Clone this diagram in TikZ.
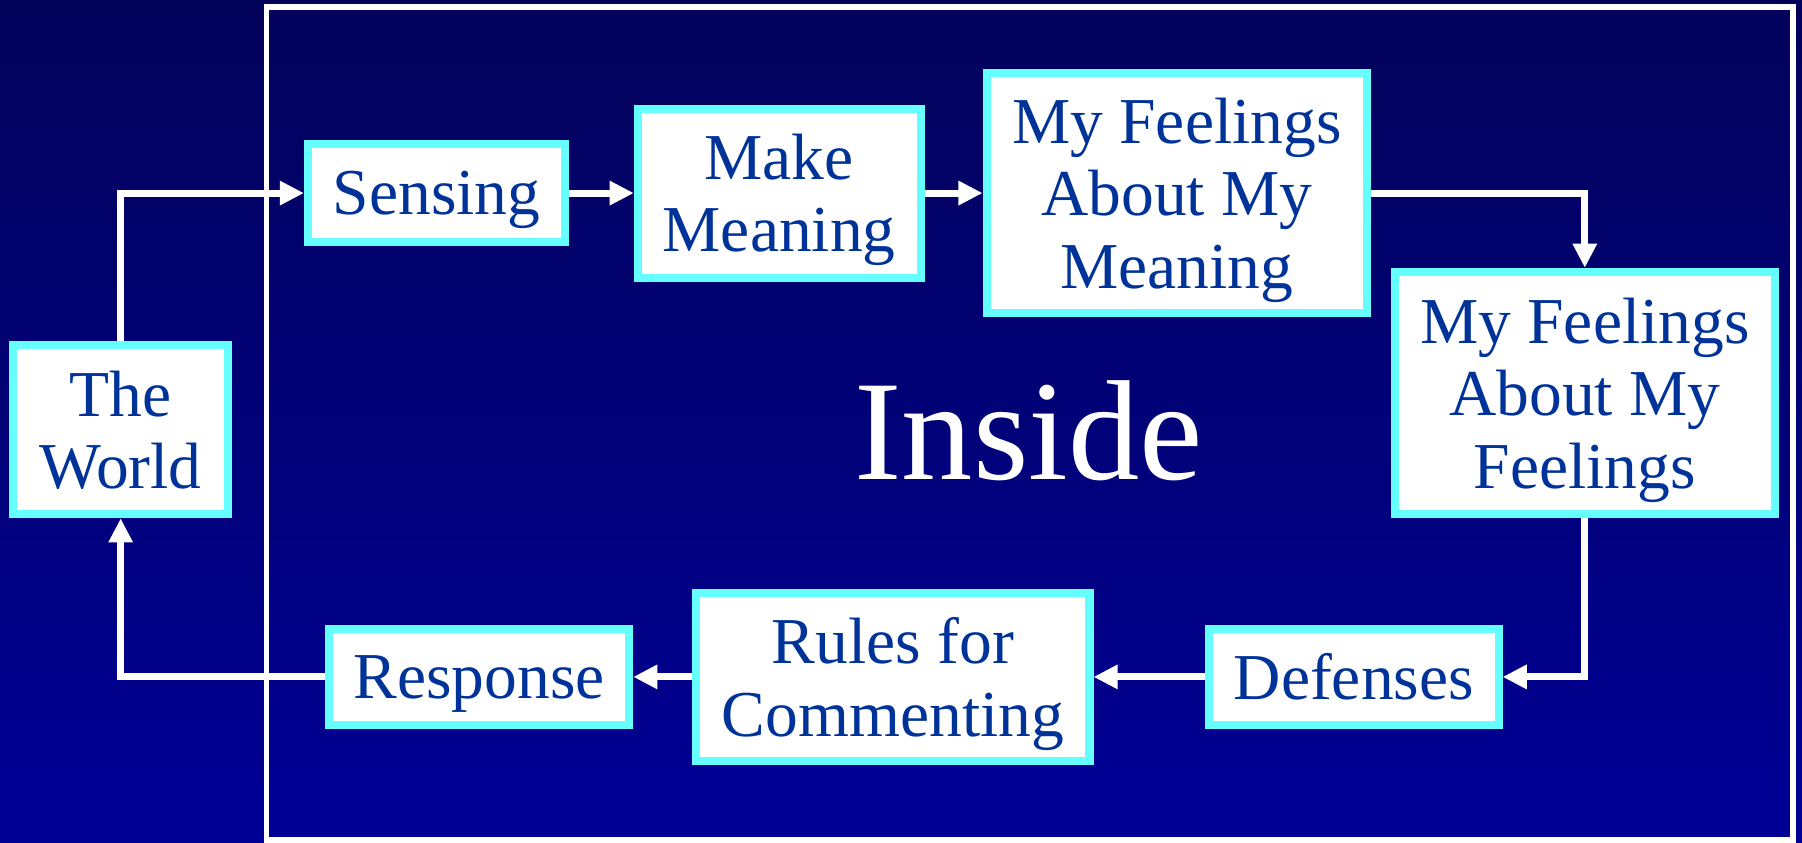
\documentclass[tikz,border=0pt]{standalone}
\usepackage{fontspec}
\setmainfont{Liberation Serif}
\usetikzlibrary{arrows.meta}

\definecolor{bgtop}{HTML}{02025A}
\definecolor{bgbottom}{HTML}{000096}
\definecolor{boxrim}{HTML}{66FFFF}
\definecolor{boxtext}{HTML}{003399}

\begin{document}
\begin{tikzpicture}[x=0.5pt,y=-0.5pt,
    stage/.style={draw=boxrim, line width=3.5pt, fill=white, text=boxtext,
      inner sep=0pt, align=center, text depth=0pt,
      font=\fontsize{28.5}{31.5}\selectfont},
    flow/.style={draw=white, line width=3pt,
      -{Triangle[length=10.5pt,width=10pt]}}]
    \useasboundingbox (0,0) rectangle (1568,733);
    \shade[top color=bgtop, bottom color=bgbottom] (0,0) rectangle (1568,733);

    % the inside frame
    \draw[white, line width=2.5pt] (232,6) rectangle (1560,731);
    \node[text=white, font=\fontsize{62}{70}\selectfont] (inside) at (895,375) {Inside};

    \node[stage, minimum width=93.5pt, minimum height=73.5pt] (world) at (105,374) {The\\World};
    \node[stage, minimum width=112pt, minimum height=42.5pt] (sensing) at (380,168) {Sensing};
    \node[stage, minimum width=123pt, minimum height=73.5pt] (meaning) at (678,168) {Make\\Meaning};
    \node[stage, minimum width=165.5pt, minimum height=104.5pt] (feelmeaning) at (1024,168) {My Feelings\\About My\\Meaning};
    \node[stage, minimum width=165.5pt, minimum height=105.5pt] (feelfeeling) at (1379,342) {My Feelings\\About My\\Feelings};
    \node[stage, minimum width=126pt, minimum height=42pt] (defenses) at (1178,589) {Defenses};
    \node[stage, minimum width=171pt, minimum height=73pt] (rules) at (777,589) {Rules for\\Commenting};
    \node[stage, minimum width=130.5pt, minimum height=42pt] (response) at (417,589) {Response};

    \draw[flow] (world.north) |- (sensing.west);
    \draw[flow] (sensing) -- (meaning);
    \draw[flow] (meaning) -- (feelmeaning);
    \draw[flow] (feelmeaning.east) -| (feelfeeling.north);
    \draw[flow] (feelfeeling.south) |- (defenses.east);
    \draw[flow] (defenses) -- (rules);
    \draw[flow] (rules) -- (response);
    \draw[flow] (response.west) -| (world.south);
\end{tikzpicture}
\end{document}
